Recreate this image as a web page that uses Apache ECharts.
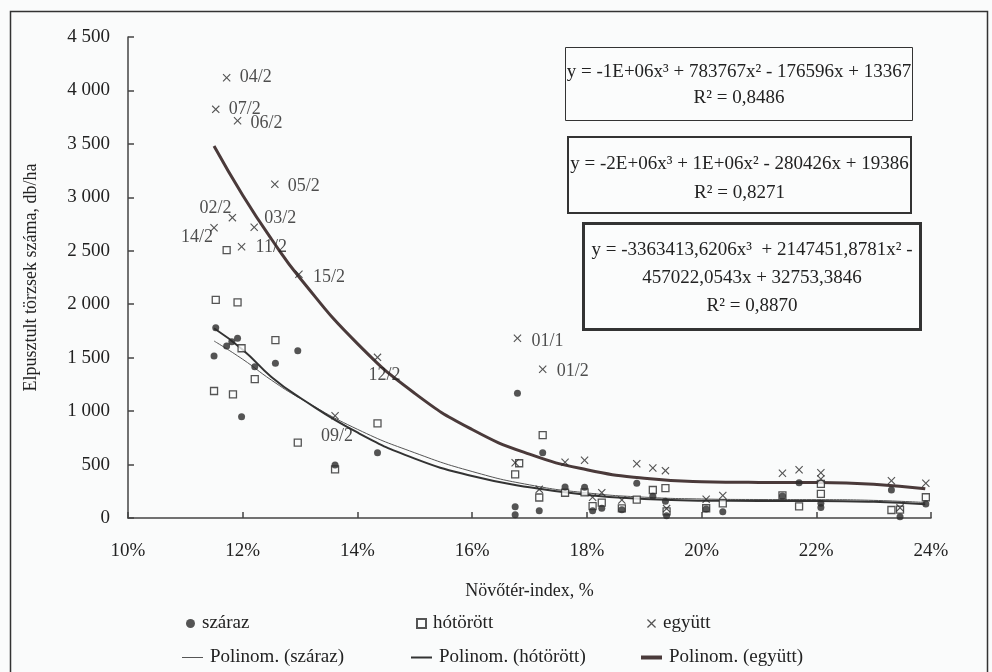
<!DOCTYPE html>
<html><head><meta charset="utf-8">
<script src="https://cdn.jsdelivr.net/npm/echarts@6/dist/echarts.min.js"></script>
<style>html,body{margin:0;padding:0;background:#fafbfb}#c{width:992px;height:672px}</style>
</head><body><div id="c"></div>
<script>
// ---- data ----
const szarazX = [0.1153,0.1172,0.1181,0.1191,0.1150,0.1198,0.1221,0.1257,0.1296,0.1361,0.1435,0.1679,0.1675,0.1675,0.1723,0.1717,0.1762,0.1796,0.1810,0.1826,0.1861,0.1887,0.1915,0.1937,0.1939,0.2008,0.2037,0.2141,0.2170,0.2208,0.2208,0.2331,0.2346,0.2391];
const szarazY = [1781,1609,1650,1681,1516,948,1416,1447,1565,496,611,1166,106,30,611,68,290,287,68,91,78,325,203,156,20,85,59,206,330,99,137,262,12,131];

const hotorottX = [0.1153,0.1172,0.1183,0.1191,0.1150,0.1198,0.1221,0.1257,0.1296,0.1361,0.1435,0.1682,0.1675,0.1723,0.1717,0.1762,0.1796,0.1810,0.1826,0.1861,0.1887,0.1915,0.1937,0.1939,0.2008,0.2037,0.2141,0.2170,0.2208,0.2208,0.2331,0.2346,0.2391];
const hotorottY = [2040,2507,1157,2018,1188,1588,1300,1665,705,455,886,512,409,776,192,236,240,112,143,90,172,262,280,62,91,137,212,109,320,225,75,79,194];

const egyuttX = [0.1172,0.1153,0.1191,0.1256,0.1182,0.1150,0.1220,0.1198,0.1298,0.1435,0.1361,0.1679,0.1723,0.1675,0.1717,0.1762,0.1796,0.1810,0.1826,0.1861,0.1887,0.1915,0.1937,0.1939,0.2008,0.2037,0.2141,0.2170,0.2208,0.2208,0.2331,0.2346,0.2391];
const egyuttY = [4119,3823,3717,3122,2810,2716,2720,2538,2280,1503,957,1681,1391,517,268,521,540,194,237,168,508,468,443,88,176,210,418,452,424,365,349,95,325];
const egyuttNames = ['04/2','07/2','06/2','05/2','02/2','14/2','03/2','11/2','15/2','12/2','09/2','01/1','01/2','','','','','','','','','','','','','','','','','','','',''];

const trendX = [0.115,0.12,0.125,0.13,0.14,0.15,0.16,0.17,0.18,0.19,0.20,0.21,0.22,0.23,0.239];
const trendSzaraz = [1656,1485,1290,1120,830,610,435,310,235,195,178,173,172,165,145];
const trendHotorott = [1775,1575,1320,1125,800,556,393,287,216,177,162,160,160,151,128];
const trendEgyutt = [3480,3020,2610,2243,1631,1166,828,597,451,372,340,333,332,316,273];

const xTickLabels = ['10%','12%','14%','16%','18%','20%','22%','24%'];
const seriesNames = ['száraz','hótörött','együtt','Polinom. (száraz)','Polinom. (hótörött)','Polinom. (együtt)'];
const equations = [
  'y = -1E+06x³ + 783767x² - 176596x + 13367\nR² = 0,8486',
  'y = -2E+06x³ + 1E+06x² - 280426x + 19386\nR² = 0,8271',
  'y = -3363413,6206x³  + 2147451,8781x² -\n457022,0543x + 32753,3846\nR² = 0,8870'
];

// ---- styling / layout ----
const FONT = '"Liberation Serif","Times New Roman",serif';
const INK = '#2b2b2b';
const labelPlace = {
  '04/2': {position:'right', distance:9, offset:[0,0]},
  '07/2': {position:'right', distance:9, offset:[0,0]},
  '06/2': {position:'right', distance:9, offset:[0,3]},
  '05/2': {position:'right', distance:9, offset:[0,2]},
  '02/2': {position:'left', distance:0, offset:[3,-9]},
  '14/2': {position:'left', distance:0, offset:[3,10]},
  '03/2': {position:'right', distance:6, offset:[0,-9]},
  '11/2': {position:'right', distance:10, offset:[0,1]},
  '15/2': {position:'right', distance:10, offset:[0,3]},
  '12/2': {position:'bottom', distance:5, offset:[7,0]},
  '09/2': {position:'bottom', distance:8, offset:[2,0]},
  '01/1': {position:'right', distance:10, offset:[0,3]},
  '01/2': {position:'right', distance:10, offset:[0,2]}
};
const crossPath = 'path://M0,1L1,0L5,4L9,0L10,1L6,5L10,9L9,10L5,6L1,10L0,9L4,5Z';

const zip = (xs, ys) => xs.map((x,i)=>[x, ys[i]]);
const egyuttData = egyuttX.map((x,i)=>{
  const n = egyuttNames[i];
  const item = {value:[x, egyuttY[i]], name:n};
  if (n && labelPlace[n]) {
    item.label = Object.assign({show:true, formatter:n, color:'#222', fontFamily:FONT, fontSize:18}, labelPlace[n]);
  }
  return item;
});

const legendPos = [
  {left:186, top:614, w:9, h:9},
  {left:416, top:614, w:9, h:9},
  {left:647, top:614, w:9, h:9},
  {left:182, top:648, w:21, h:1, icon:'rect'},
  {left:411, top:648, w:21, h:2, icon:'rect'},
  {left:641, top:648, w:21, h:4, icon:'rect'}
];
const legends = seriesNames.map((n,i)=>{
  const p = legendPos[i];
  const l = {data:[n], left:p.left, top:p.top, itemWidth:p.w, itemHeight:p.h, itemGap:0, padding:0,
    textStyle:{fontFamily:FONT, fontSize:19, color:'#222', padding:[0,0,0,2]}};
  if (p.icon) l.icon = p.icon;
  return l;
});

const chart = echarts.init(document.getElementById('c'), null, {renderer:'canvas'});
const eqBox = (x,y,w,h,lw,txt,lh,ty) => ({
  type:'group', left:x, top:y, children:[
    {type:'rect', shape:{x:0,y:0,width:w,height:h}, style:{fill:'#fbfcfc', stroke:'#333', lineWidth:lw}},
    {type:'text', x:w/2, y:ty, style:{text:txt, align:'center', verticalAlign:'top', font:'19px '+FONT, fill:'#222', lineHeight:lh}}
  ]
});
chart.setOption({
  backgroundColor:'#fafbfb',
  animation:false,
  textStyle:{fontFamily:FONT, color:'#222'},
  grid:{left:128, right:61, top:37, bottom:154},
  xAxis:{
    type:'value', min:0.10, max:0.24, interval:0.02,
    name:'Növőtér-index, %', nameLocation:'middle', nameGap:64,
    nameTextStyle:{fontFamily:FONT, fontSize:18, color:'#222'},
    axisLine:{show:true, lineStyle:{color:'#444', width:1.5}},
    axisTick:{show:true, inside:true, length:6, lineStyle:{color:'#444', width:1.5}},
    axisLabel:{margin:24, fontFamily:FONT, fontSize:19, color:'#222',
      formatter:(v)=> xTickLabels[Math.round((v-0.10)/0.02)]},
    splitLine:{show:false}
  },
  yAxis:{
    type:'value', min:0, max:4500, interval:500,
    name:'Elpusztult törzsek száma, db/ha', nameLocation:'middle', nameGap:88,
    nameTextStyle:{fontFamily:FONT, fontSize:18, color:'#222'},
    axisLine:{show:true, lineStyle:{color:'#444', width:1.5}},
    axisTick:{show:true, inside:true, length:6, lineStyle:{color:'#444', width:1.5}},
    axisLabel:{margin:18, fontFamily:FONT, fontSize:19, color:'#222',
      formatter:(v)=> v>=1000 ? Math.floor(v/1000)+' '+String(v%1000).padStart(3,'0') : String(v)},
    splitLine:{show:false}
  },
  legend:legends,
  series:[
    {name:seriesNames[0], type:'scatter', data:zip(szarazX, szarazY), symbol:'circle', symbolSize:7,
      itemStyle:{color:INK}, z:5},
    {name:seriesNames[1], type:'scatter', data:zip(hotorottX, hotorottY), symbol:'rect', symbolSize:7,
      itemStyle:{color:'#fbfcfc', borderColor:INK, borderWidth:1.3}, z:4},
    {name:seriesNames[2], type:'scatter', data:egyuttData, symbol:crossPath, symbolSize:8,
      itemStyle:{color:INK}, z:6},
    {name:seriesNames[3], type:'line', data:zip(trendX, trendSzaraz), smooth:true, symbol:'none',
      lineStyle:{color:'#555', width:1}, itemStyle:{color:'#555'}, z:3},
    {name:seriesNames[4], type:'line', data:zip(trendX, trendHotorott), smooth:true, symbol:'none',
      lineStyle:{color:'#333', width:2}, itemStyle:{color:'#333'}, z:3},
    {name:seriesNames[5], type:'line', data:zip(trendX, trendEgyutt), smooth:true, symbol:'none',
      lineStyle:{color:'#4a3a3a', width:3}, itemStyle:{color:'#4a3a3a'}, z:3}
  ],
  graphic:[
    {type:'rect', left:8, top:9, shape:{width:977, height:700}, style:{fill:'none', stroke:'#333', lineWidth:1.5}, silent:true},
    eqBox(565, 47, 347, 73, 1, equations[0], 26, 12),
    eqBox(567, 136, 343, 76, 2, equations[1], 29, 13),
    eqBox(582, 222, 337, 106, 3, equations[2], 28, 13)
  ]
});
</script></body></html>
